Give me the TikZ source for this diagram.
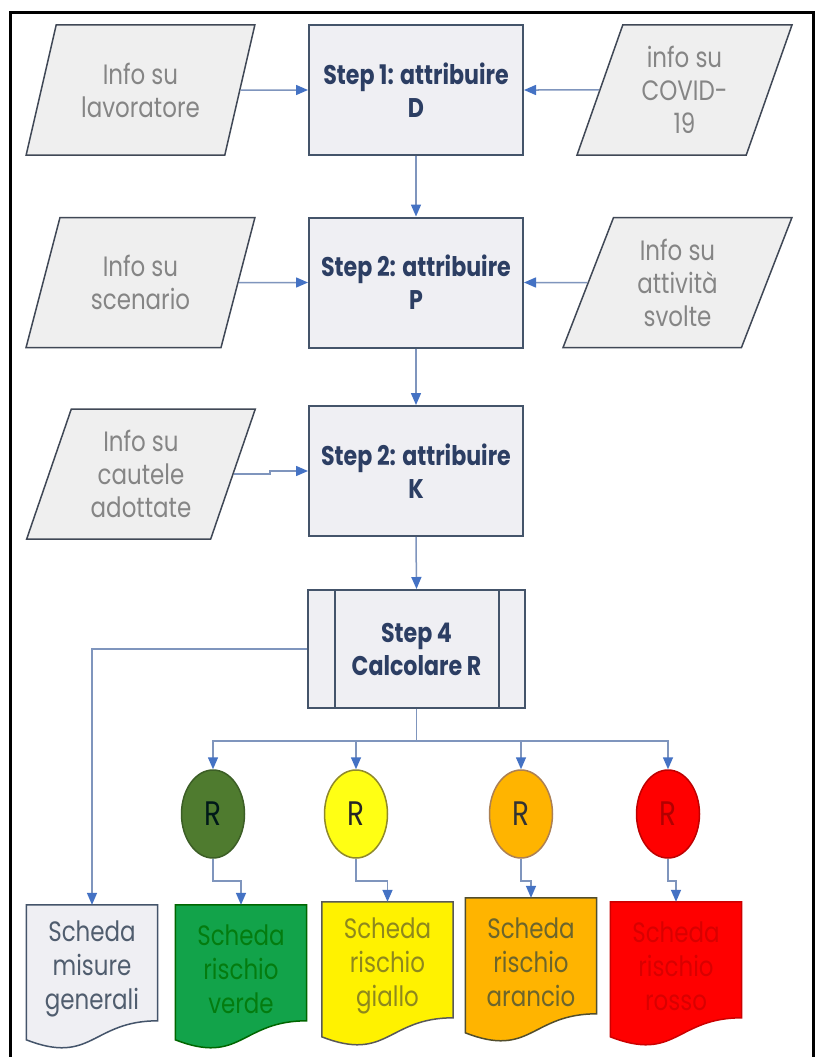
\documentclass[tikz,border=0pt]{standalone}
\usepackage{fontspec}
\setmainfont{Poppins}[FakeStretch=0.82]
\usetikzlibrary{shapes.geometric,arrows.meta,calc}
\pgfdeclarelayer{background}
\pgfsetlayers{background,main}

\definecolor{boxfill}{HTML}{EFEFF3}
\definecolor{boxline}{HTML}{44546A}
\definecolor{parafill}{HTML}{EFEFEF}
\definecolor{paraline}{HTML}{404856}
\definecolor{stepnavy}{HTML}{2C3E63}
\definecolor{infogray}{HTML}{858585}
\definecolor{linkcol}{HTML}{7F95BD}
\definecolor{arrowblue}{HTML}{4472C4}
\definecolor{rgreen}{HTML}{4F7B2F}
\definecolor{rgreenline}{HTML}{3C5E26}
\definecolor{ryellow}{HTML}{FFFF14}
\definecolor{rorange}{HTML}{FFB400}
\definecolor{rred}{HTML}{FF0000}
\definecolor{dgreen}{HTML}{12A34A}

\tikzset{
  stepbox/.style={draw=boxline, line width=2pt, fill=boxfill, minimum width=214pt,
    minimum height=130pt, align=center, text=stepnavy,
    font=\bfseries\fontsize{27}{33}\selectfont},
  infobox/.style={trapezium, trapezium left angle=70, trapezium right angle=110,
    trapezium stretches=true, draw=paraline, line width=1.5pt, fill=parafill,
    minimum width=229pt, minimum height=130pt, align=center, text=infogray,
    font=\fontsize{28}{33}\selectfont},
  rcirc/.style={ellipse, line width=1.5pt, minimum width=63pt, minimum height=88pt,
    inner sep=0pt, font=\fontsize{34}{34}\selectfont},
  docnode/.style={minimum width=131pt, minimum height=128pt,
    inner sep=0pt, align=center, font=\fontsize{28}{34}\selectfont},
  link/.style={draw=linkcol, line width=1.5pt},
  arr/.style={link, -{Triangle[length=12pt,width=10pt,color=arrowblue]}}
}

% wavy sheet behind a docnode
\newcommand\docsheet[3]{%
  \filldraw[fill=#2, draw=#3, line width=1.5pt]
    (#1.north west) -- (#1.north east) -- ($(#1.north east)+(0,116)$)
    .. controls ($(#1.north)+(0,116)$) and ($(#1.north)+(0,160.7)$)
    .. ($(#1.north west)+(0,135)$) -- cycle;}

\begin{document}
\begin{tikzpicture}[x=1pt,y=-1pt]
\useasboundingbox (0,0) rectangle (816,1057);
\draw[line width=3pt] (10,1060) -- (10,13) -- (813,13) -- (813,1060);

% steps
\node[stepbox] (s1) at (416,90) {Step 1: attribuire\\D};
\node[stepbox] (s2) at (416,282.5) {Step 2: attribuire\\P};
\node[stepbox] (s3) at (416,471) {Step 2: attribuire\\K};
\node[stepbox, minimum width=217pt, minimum height=118pt] (s4) at (416.5,649) {Step 4\\Calcolare R};
\draw[boxline, line width=2pt] ([xshift=28pt]s4.north west) -- ([xshift=28pt]s4.south west);
\draw[boxline, line width=2pt] ([xshift=-27pt]s4.north east) -- ([xshift=-27pt]s4.south east);

% inputs
\node[infobox] (lav) at (140.5,90) {Info su\\lavoratore};
\node[infobox, minimum width=215pt] (cov) at (684.5,90) {info su\\COVID-\\19};
\node[infobox] (scen) at (140.5,282.5) {Info su\\scenario};
\node[infobox] (att) at (677.5,282.5) {Info su\\attività\\svolte};
\node[infobox] (caut) at (141,474) {Info su\\cautele\\adottate};

% risk levels
\node[rcirc, fill=rgreen, draw=rgreenline, text=black!80!teal] (c1) at (213,814) {R};
\node[rcirc, fill=ryellow, draw=olive!70!gray, text=black!85] (c2) at (356,814) {R};
\node[rcirc, fill=rorange, draw=brown!70!gray, text=black!80] (c3) at (521,814) {R};
\node[rcirc, fill=rred, draw=red!75!black, text=red!70!black] (c4) at (668,814) {R};

% sheets
\node[docnode, text=boxline!80!gray] (d1) at (92,969) {Scheda\\misure\\generali};
\node[docnode, text=green!45!black!80!dgreen] (d2) at (241,969) {Scheda\\rischio\\verde};
\node[docnode, text=olive!80!gray] (d3) at (387.5,966) {Scheda\\rischio\\giallo};
\node[docnode, text=olive!60!black!90!brown] (d4) at (531,962) {Scheda\\rischio\\arancio};
\node[docnode, text=red!85!black] (d5) at (676,966) {Scheda\\rischio\\rosso};
\begin{pgfonlayer}{background}
\fill[white] (0,0) rectangle (816,1057);
\docsheet{d1}{boxfill}{boxline}
\docsheet{d2}{dgreen}{green!40!black}
\docsheet{d3}{yellow}{black!65}
\docsheet{d4}{rorange}{black!55!olive}
\docsheet{d5}{rred}{red!80!black}
\end{pgfonlayer}

% connectors
\draw[arr] (lav.east) -- (s1.west);
\draw[arr] (cov.west) -- (s1.east);
\draw[arr] (s1.south) -- (s2.north);
\draw[arr] (scen.east) -- (s2.west);
\draw[arr] (att.west) -- (s2.east);
\draw[arr] (s2.south) -- (s3.north);
\draw[arr] (caut.east) -- ++(36,0) |- (s3.west);
\draw[arr] (s3.south) -- (s4.north);
\draw[arr] (s4.west) -| (d1.north);
\draw[link] (s4.south) -- ++(0,32) coordinate (fork);
\foreach \c in {c1,c2,c3,c4}
  \draw[arr] (fork) -| (\c.north);
\foreach \c/\d in {c1/d2,c2/d3,c3/d4,c4/d5}
  \draw[arr] (\c.south) -- ++(0,22) -| (\d.north);
\end{tikzpicture}
\end{document}
